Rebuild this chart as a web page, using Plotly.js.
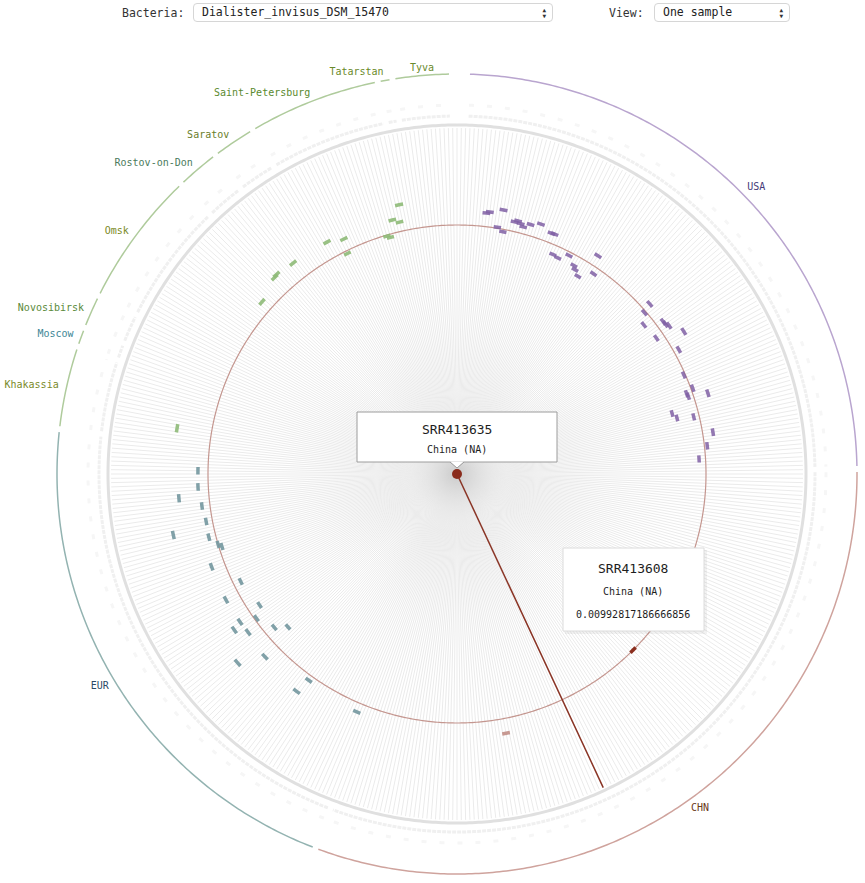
<!DOCTYPE html>
<html><head><meta charset="utf-8">
<script src="https://cdn.plot.ly/plotly-3.0.1.min.js"></script>
<style>
body{margin:0;background:#fff;}
#wrap{position:relative;width:865px;height:883px;overflow:hidden;}
#chart{position:absolute;left:0;top:0;width:865px;height:883px;}
.ctl{position:absolute;top:6px;font-family:'DejaVu Sans Mono',monospace;font-size:11.5px;color:#333;}
.sel{position:absolute;top:3px;height:19px;border:1px solid #d6d6d6;border-radius:4px;background:#fff;font-family:'DejaVu Sans Mono',monospace;font-size:11.5px;color:#222;line-height:17px;box-sizing:border-box;padding-left:8px;}
.arr{position:absolute;right:6px;top:3px;font-size:6px;line-height:5.5px;color:#333;}
</style></head>
<body><div id="wrap"><div id="chart"></div>
<div class="ctl" style="left:122px;">Bacteria:</div>
<div class="sel" style="left:193px;width:360px;">Dialister_invisus_DSM_15470<div class="arr">▲<br>▼</div></div>
<div class="ctl" style="left:609px;">View:</div>
<div class="sel" style="left:654px;width:136px;">One sample<div class="arr">▲<br>▼</div></div>
</div>
<script>
// ---------------- DATA ----------------
const groupNames = ['USA','CHN','EUR','Khakassia','Moscow','Novosibirsk','Omsk','Rostov-on-Don','Saratov','Saint-Petersburg','Tatarstan','Tyva'];
const groupSampleCounts = [122,155,105,16,3,6,27,8,8,26,2,11];
const groupArcColors = ['#b9a5cf','#cfa39d','#93b3b1','#afcb9c','#afcb9c','#afcb9c','#afcb9c','#afcb9c','#afcb9c','#afcb9c','#afcb9c','#afcb9c'];
const groupLabelColors = ['#463a78','#6b3a18','#2c4a66','#7a8a2a','#3e8696','#5a8a3a','#7a8a1e','#4a7a5c','#6a7e2a','#5a8a2e','#6a8a2a','#6a8a2a'];

const usaSamplePos = [6,7,11,10,12,15,16,17,18,20,23,27,28,30,32,35,38,39,41,45,43,65,66,69,72,73,74,78,75,82,90,96,97,95,98,101,103,104,110,114,118];
const usaValues = [0.01047,0.01053,0.01069,0.00997,0.00983,0.01031,0.01038,0.01030,0.01020,0.01037,0.01051,0.01031,0.01033,0.00955,0.00951,0.00979,0.00953,0.00941,0.00924,0.00966,0.01036,0.01025,0.00986,0.00953,0.01022,0.01024,0.01032,0.01068,0.00962,0.01014,0.00987,0.00970,0.00973,0.01000,0.01051,0.00891,0.00905,0.00971,0.01034,0.01004,0.00967];

const eurSamplePos = [97,92,89,86,81,79,76,73,72,67,59,56,49,48,46,47,44,40,37,35,39,21,20,2];
const eurValues = [0.01033,0.01034,0.01113,0.01025,0.01018,0.01157,0.01021,0.00993,0.00981,0.01046,0.00963,0.01049,0.00945,0.01047,0.00985,0.01084,0.01045,0.00951,0.00909,0.01057,0.01154,0.01077,0.01013,0.01029];

const ruGroup = ['Saint-Petersburg','Saint-Petersburg','Saint-Petersburg','Saint-Petersburg','Saint-Petersburg','Saint-Petersburg','Saint-Petersburg','Saint-Petersburg','Rostov-on-Don','Rostov-on-Don','Rostov-on-Don','Omsk','Khakassia'];
const ruSamplePos = [25,22,24,19,20,6,1,5,7,1,0,20,3];
const ruValues = [0.01098,0.01045,0.01030,0.00989,0.00980,0.01040,0.01060,0.00982,0.01065,0.01073,0.01069,0.01037,0.01131];

const chnSamplePos = [111];
const chnValues = [0.01052];

const hoveredId = 'SRR413608';
const hoveredLabel = 'China (NA)';
const hoveredPos = 63;          // CHN
const hoveredValue = 0.00992817186666856;

const selectedId = 'SRR413635';
const selectedLabel = 'China (NA)';
const selectedPos = 91;         // CHN
const selectedValue = 0;

// ---------------- LAYOUT HELPERS ----------------
const TOTAL_SLOTS = 504, FIRST_SLOT = 3;
const STEP = 360 / TOTAL_SLOTS;
const groupStart = [];
(function(){ let s = FIRST_SLOT; groupSampleCounts.forEach(c => { groupStart.push(s); s += c + 1; }); })();
const gi = name => groupNames.indexOf(name);
const thetaOf = (g, pos) => (groupStart[g] + pos) * STEP;

const PXK = 249 / hoveredValue;        // px per unit of abundance
const R = px => px / PXK;
const RMAX = R(408);

const traces = [];

// spokes (one per slot round the circle)
(function(){
  const r = [], t = [];
  for (let s = 0; s < TOTAL_SLOTS; s++) { const th = s * STEP; r.push(0, R(346), null); t.push(th, th, null); }
  traces.push({type:'scatterpolar', mode:'lines', r, theta:t, line:{color:'#ebebeb', width:1}, hoverinfo:'skip', showlegend:false});
})();

// center glow
traces.push({type:'scatterpolar', mode:'markers', r:[0], theta:[0], marker:{size:120, color:'rgba(255,255,255,0)', gradient:{type:'radial', color:'rgba(175,175,175,0.55)'}, line:{width:0}}, hoverinfo:'skip', showlegend:false});

// main grey ring
(function(){
  const t = [], r = [];
  for (let a = 0; a <= 360; a += 0.5) { t.push(a); r.push(R(349)); }
  traces.push({type:'scatterpolar', mode:'lines', r, theta:t, line:{color:'#e0e0e0', width:3}, hoverinfo:'skip', showlegend:false});
})();

// faint label rows
function arcTrace(rpx, a0, a1, line){
  const t = [], r = [];
  const n = Math.max(2, Math.ceil((a1 - a0) / 0.5));
  for (let i = 0; i <= n; i++) { t.push(a0 + (a1 - a0) * i / n); r.push(R(rpx)); }
  return {type:'scatterpolar', mode:'lines', r, theta:t, line, hoverinfo:'skip', showlegend:false};
}
groupNames.forEach((g, k) => {
  const a0 = thetaOf(k, 0) - 0.4 * STEP, a1 = thetaOf(k, groupSampleCounts[k] - 1) + 0.4 * STEP;
  traces.push(arcTrace(358, a0, a1, {color:'#f0f0f0', width:3, dash:'4px,1px'}));
  traces.push(arcTrace(369, a0, a1, {color:'#f6f6f6', width:3, dash:'5px,13px'}));
});

// hovered value circle
(function(){
  const t = [], r = [];
  for (let a = 0; a <= 360; a += 0.5) { t.push(a); r.push(hoveredValue); }
  traces.push({type:'scatterpolar', mode:'lines', r, theta:t, line:{color:'#c4968f', width:1.2}, hoverinfo:'skip', showlegend:false});
})();

// outer group arcs
groupNames.forEach((g, k) => {
  const a0 = thetaOf(k, 0) - 0.4 * STEP, a1 = thetaOf(k, groupSampleCounts[k] - 1) + 0.4 * STEP;
  traces.push(arcTrace(400, a0, a1, {color:groupArcColors[k], width:1.5}));
});

// group labels
(function(){
  const t = [], r = [], pos = [];
  groupNames.forEach((g, k) => {
    const m = thetaOf(k, (groupSampleCounts[k] - 1) / 2);
    t.push(m);
    if (m > 350 || m < 10) { pos.push('top center'); r.push(R(402)); }
    else { pos.push(m < 180 ? 'middle right' : 'middle left'); r.push(R(408)); }
  });
  traces.push({type:'scatterpolar', mode:'text', r, theta:t, text:groupNames, textposition:pos,
    textfont:{family:'DejaVu Sans Mono, monospace', size:10, color:groupLabelColors}, cliponaxis:false, hoverinfo:'skip', showlegend:false});
})();

// selected sample spoke + dot
traces.push({type:'scatterpolar', mode:'lines', r:[selectedValue, R(346)], theta:[thetaOf(gi('CHN'), selectedPos), thetaOf(gi('CHN'), selectedPos)], line:{color:'#8a3526', width:1.5}, hoverinfo:'skip', showlegend:false});
traces.push({type:'scatterpolar', mode:'markers', r:[selectedValue], theta:[thetaOf(gi('CHN'), selectedPos)], marker:{size:10, color:'#8a2b1c'}, hoverinfo:'skip', showlegend:false});

// sample marks: short tangential dashes at the sample's value
const HALF = 0.85;
function marks(groupIdxs, positions, values, color){
  const t = [], r = [];
  positions.forEach((p, i) => {
    const th = thetaOf(groupIdxs[i], p), v = values[i];
    t.push(th - HALF, th, th + HALF, null); r.push(v, v, v, null);
  });
  return {type:'scatterpolar', mode:'lines', r, theta:t, line:{color, width:3.5}, hoverinfo:'skip', showlegend:false};
}
traces.push(marks(usaSamplePos.map(() => gi('USA')), usaSamplePos, usaValues, 'rgba(128,96,164,0.85)'));
traces.push(marks(eurSamplePos.map(() => gi('EUR')), eurSamplePos, eurValues, 'rgba(115,151,158,0.9)'));
traces.push(marks(ruGroup.map(gi), ruSamplePos, ruValues, 'rgba(142,186,120,0.9)'));
traces.push(marks(chnSamplePos.map(() => gi('CHN')), chnSamplePos, chnValues, 'rgba(196,148,140,0.95)'));
traces.push(marks([gi('CHN')], [hoveredPos], [hoveredValue], '#8b2f1f'));

// ---------------- TOOLTIPS ----------------
const X = x => x / 865, Y = y => 1 - y / 883;
const mono = 'DejaVu Sans Mono, monospace';
const shapes = [
  {type:'rect', xref:'paper', yref:'paper', x0:X(357), x1:X(557), y0:Y(462), y1:Y(412), fillcolor:'#fff', line:{color:'#9c9c9c', width:1}},
  {type:'path', xref:'paper', yref:'paper', path:`M ${X(450)},${Y(461.5)} L ${X(457)},${Y(468)} L ${X(464)},${Y(461.5)} Z`, fillcolor:'#fff', line:{width:0}},
  {type:'path', xref:'paper', yref:'paper', path:`M ${X(450)},${Y(462)} L ${X(457)},${Y(468)} L ${X(464)},${Y(462)}`, line:{color:'#9c9c9c', width:1}},
  {type:'rect', xref:'paper', yref:'paper', x0:X(565), x1:X(707), y0:Y(634), y1:Y(550), fillcolor:'rgba(0,0,0,0.05)', line:{width:0}},
  {type:'rect', xref:'paper', yref:'paper', x0:X(563), x1:X(704), y0:Y(631), y1:Y(548), fillcolor:'#fff', line:{color:'#dcdcdc', width:1}}
];
const ann = (x, y, text, size) => ({xref:'paper', yref:'paper', x:X(x), y:Y(y), text, showarrow:false, xanchor:'center', yanchor:'middle', font:{family:mono, size, color:'#1e1e1e'}});
const annotations = [
  ann(457, 429, selectedId, 13), ann(457, 449, selectedLabel, 10),
  ann(633, 568, hoveredId, 13), ann(633, 591, hoveredLabel, 10), ann(633, 614, String(hoveredValue), 10)
];

const layout = {
  width:865, height:883, margin:{l:0, r:0, t:0, b:0}, paper_bgcolor:'#fff', showlegend:false, hovermode:false,
  polar:{
    domain:{x:[49/865, 865/865], y:[1/883, 817/883]}, bgcolor:'rgba(0,0,0,0)', hole:0,
    radialaxis:{visible:false, range:[0, RMAX], showgrid:false, showline:false, showticklabels:false, ticks:''},
    angularaxis:{visible:false, direction:'clockwise', rotation:90, showgrid:false, showline:false, showticklabels:false, ticks:''}
  },
  shapes, annotations
};
Plotly.newPlot('chart', traces, layout, {displayModeBar:false, staticPlot:true});
</script>
</body></html>
